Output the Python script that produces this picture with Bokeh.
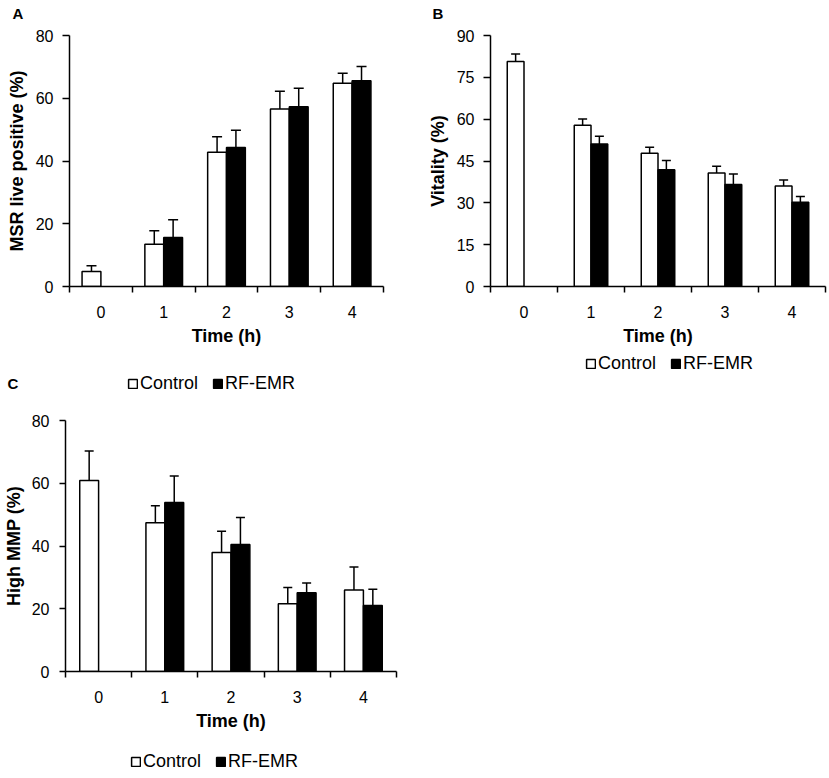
from bokeh.plotting import figure
from bokeh.models import (Range1d, FixedTicker, Whisker, TeeHead, ColumnDataSource,
                          Legend, LegendItem, Label)
from bokeh.transform import dodge
from bokeh.layouts import row, column
from bokeh.embed import file_html
from bokeh.resources import INLINE

# ---------------- data ----------------
times = [0, 1, 2, 3, 4]
rf_times = [1, 2, 3, 4]
series_names = ["Control", "RF-EMR"]
panel_letters = ["A", "B", "C"]

a_ctrl = [4.8, 13.5, 42.8, 56.6, 64.8]
a_ctrl_err = [1.8, 4.3, 4.9, 5.6, 3.2]
a_rf = [15.6, 44.3, 57.3, 65.6]
a_rf_err = [5.7, 5.5, 5.9, 4.5]

b_ctrl = [80.7, 57.8, 47.8, 40.7, 36.0]
b_ctrl_err = [2.7, 2.3, 2.1, 2.4, 2.2]
b_rf = [51.1, 41.9, 36.6, 30.2]
b_rf_err = [2.8, 3.3, 3.7, 2.1]

c_ctrl = [60.9, 47.4, 37.9, 21.6, 26.0]
c_ctrl_err = [9.4, 5.4, 6.8, 5.2, 7.3]
c_rf = [53.9, 40.5, 25.1, 21.0]
c_rf_err = [8.4, 8.6, 3.1, 5.2]

a_yticks = [0, 20, 40, 60, 80]
b_yticks = [0, 15, 30, 45, 60, 75, 90]
c_yticks = [0, 20, 40, 60, 80]

FONT = "Liberation Sans"
LW = 1.5


def sources(ctrl, ctrl_err, rf, rf_err):
    src_c = ColumnDataSource(dict(time=times, top=ctrl,
                                  upper=[v + e for v, e in zip(ctrl, ctrl_err)]))
    src_r = ColumnDataSource(dict(time=rf_times, top=rf,
                                  upper=[v + e for v, e in zip(rf, rf_err)]))
    return src_c, src_r


def make_panel(width, height, bl, br, bt, bb, yticks, ytitle, srcs, bar_w, cap,
               ytick_out=7, ylabel_standoff=9, ytitle_standoff=6):
    src_c, src_r = srcs
    p = figure(width=width, height=height,
               min_border_left=bl, min_border_right=br,
               min_border_top=bt, min_border_bottom=bb,
               x_range=Range1d(times[0] - 0.5, times[-1] + 0.5),
               y_range=Range1d(yticks[0], yticks[-1]),
               output_backend="svg", toolbar_location=None, tools="")
    p.outline_line_color = None
    p.grid.visible = False
    p.background_fill_color = "white"
    p.border_fill_color = "white"

    xc = dodge("time", -bar_w / 2, range=p.x_range)
    xr = dodge("time", bar_w / 2, range=p.x_range)

    for src, xx in ((src_c, xc), (src_r, xr)):
        w = Whisker(source=src, base=xx, upper="upper", lower="top",
                    upper_head=TeeHead(size=cap, line_width=LW, line_color="black"),
                    lower_head=None, line_width=LW, line_color="black")
        p.add_layout(w)

    p.vbar(x=xc, top="top", bottom=0, width=bar_w, source=src_c,
           fill_color="white", line_color="black", line_width=LW)
    p.vbar(x=xr, top="top", bottom=0, width=bar_w, source=src_r,
           fill_color="black", line_color="black", line_width=LW)

    # x axis: ticks at category boundaries, labels at centres
    xa = p.xaxis[0]
    xa.ticker = FixedTicker(ticks=times,
                            minor_ticks=[t - 0.5 for t in times] + [times[-1] + 0.5])
    xa.major_tick_line_color = None
    xa.major_tick_out = 0
    xa.major_tick_in = 0
    xa.minor_tick_out = 6
    xa.minor_tick_in = 0
    xa.minor_tick_line_color = "black"
    xa.minor_tick_line_width = LW
    xa.axis_line_width = LW
    xa.axis_line_color = "black"
    xa.major_label_text_font = FONT
    xa.major_label_text_font_size = "16px"
    xa.major_label_text_color = "black"
    xa.major_label_standoff = 13
    xa.axis_label = "Time (h)"
    xa.axis_label_text_font = FONT
    xa.axis_label_text_font_size = "18px"
    xa.axis_label_text_font_style = "bold"
    xa.axis_label_text_color = "black"
    xa.axis_label_standoff = 5

    ya = p.yaxis[0]
    ya.ticker = FixedTicker(ticks=yticks)
    ya.major_tick_out = ytick_out
    ya.major_tick_in = 0
    ya.major_tick_line_width = LW
    ya.major_tick_line_color = "black"
    ya.minor_tick_line_color = None
    ya.axis_line_width = LW
    ya.axis_line_color = "black"
    ya.major_label_text_font = FONT
    ya.major_label_text_font_size = "16px"
    ya.major_label_text_color = "black"
    ya.major_label_standoff = ylabel_standoff
    ya.axis_label = ytitle
    ya.axis_label_text_font = FONT
    ya.axis_label_text_font_size = "18px"
    ya.axis_label_text_font_style = "bold"
    ya.axis_label_text_color = "black"
    ya.axis_label_standoff = ytitle_standoff
    return p


def make_strip(width, height):
    """Blank strip (no axes) that holds panel letters and legends."""
    s = figure(width=width, height=height, min_border=0,
               x_range=Range1d(times[0] - 0.5, times[-1] + 0.5), y_range=Range1d(0, 1),
               x_axis_type=None, y_axis_type=None,
               output_backend="svg", toolbar_location=None, tools="")
    s.outline_line_color = None
    s.grid.visible = False
    s.background_fill_color = "white"
    s.border_fill_color = "white"
    return s


def add_legend(s, srcs, x, y):
    src_c, src_r = srcs
    # hidden copies of the bars: they only feed the legend swatches
    r_c = s.vbar(x="time", top="top", bottom=0, width=0.1, source=src_c,
                 fill_color="white", line_color="black", line_width=LW, visible=False)
    r_r = s.vbar(x="time", top="top", bottom=0, width=0.1, source=src_r,
                 fill_color="black", line_color="black", line_width=LW, visible=False)
    leg = Legend(items=[LegendItem(label=series_names[0], renderers=[r_c]),
                        LegendItem(label=series_names[1], renderers=[r_r])],
                 location=(x, y), orientation="horizontal",
                 glyph_width=11, glyph_height=11, label_standoff=2, spacing=14,
                 padding=0, margin=0, border_line_color=None,
                 background_fill_alpha=0, click_policy="none",
                 label_text_font=FONT, label_text_font_size="18px",
                 label_text_color="black")
    s.add_layout(leg, "center")


def add_letter(s, text, x, y):
    s.add_layout(Label(x=x, y=y, x_units="screen", y_units="screen", text=text,
                       text_font=FONT, text_font_size="15px", text_font_style="bold",
                       text_color="black", text_baseline="top"))


srcA = sources(a_ctrl, a_ctrl_err, a_rf, a_rf_err)
srcB = sources(b_ctrl, b_ctrl_err, b_rf, b_rf_err)
srcC = sources(c_ctrl, c_ctrl_err, c_rf, c_rf_err)

# left column
hA = make_strip(420, 28)
add_letter(hA, panel_letters[0], 12, 24)
pA = make_panel(420, 334, 69, 37, 7, 76, a_yticks, "MSR live positive (%)", srcA, 0.3, 10,
                ytick_out=7, ylabel_standoff=9, ytitle_standoff=6)
hMid = make_strip(420, 38)
add_legend(hMid, srcA, 127, 6)
add_letter(hMid, panel_letters[2], 7, 26)
pC = make_panel(420, 340, 61, 24, 20, 69, c_yticks, "High MMP (%)", srcC, 0.285, 9,
                ytick_out=6, ylabel_standoff=10, ytitle_standoff=5)
hC = make_strip(420, 38)
add_legend(hC, srcC, 130, 6)

# right column
hB = make_strip(409, 28)
add_letter(hB, panel_letters[1], 12, 24)
pB = make_panel(409, 320, 70, 4, 7, 62, b_yticks, "Vitality (%)", srcB, 0.25, 9,
                ytick_out=7, ylabel_standoff=9, ytitle_standoff=6)
hBl = make_strip(409, 32)
add_legend(hBl, srcB, 165, 6)

left = column(row(hA), row(pA), row(hMid), row(pC), row(hC))
right = column(row(hB), row(pB), row(hBl))
layout = row(left, right)

open("out.html", "w").write(file_html(layout, INLINE))
